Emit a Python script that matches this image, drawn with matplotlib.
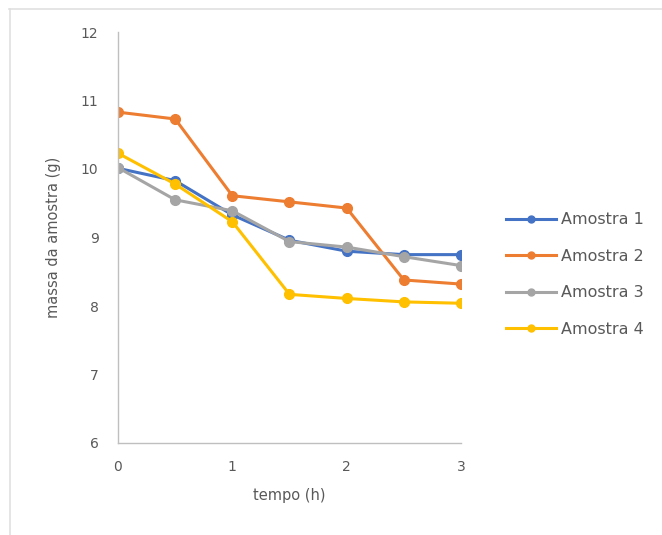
import matplotlib
matplotlib.use("Agg")
import matplotlib.pyplot as plt
from matplotlib.lines import Line2D

tempo = [0, 0.5, 1, 1.5, 2, 2.5, 3]
amostra1 = [10.01, 9.83, 9.33, 8.96, 8.80, 8.75, 8.75]
amostra2 = [10.83, 10.73, 9.61, 9.52, 9.43, 8.38, 8.32]
amostra3 = [10.02, 9.55, 9.39, 8.94, 8.86, 8.72, 8.59]
amostra4 = [10.23, 9.78, 9.23, 8.17, 8.11, 8.06, 8.04]
nomes = ["Amostra 1", "Amostra 2", "Amostra 3", "Amostra 4"]
cores = ["#4472C4", "#ED7D31", "#A5A5A5", "#FFC000"]

TXT = "#595959"
EIXO = "#BFBFBF"

fig = plt.figure(figsize=(6.62, 5.35), dpi=100)
ax = fig.add_axes([118 / 662, 1 - 443 / 535, (461 - 118) / 662, (443 - 32) / 535])

for serie, nome, cor in zip([amostra1, amostra2, amostra3, amostra4], nomes, cores):
    ax.plot(tempo, serie, color=cor, lw=2.2, marker="o", ms=7, label=nome)

ax.set_xlim(0, 3)
ax.set_ylim(6, 12)
ax.set_xticks([0, 1, 2, 3])
ax.set_yticks([6, 7, 8, 9, 10, 11, 12])
ax.tick_params(length=0, labelsize=10, colors=TXT, pad=12)
ax.tick_params(axis="y", pad=14)
for s in ["top", "right"]:
    ax.spines[s].set_visible(False)
for s in ["left", "bottom"]:
    ax.spines[s].set_color(EIXO)
    ax.spines[s].set_linewidth(1)
ax.set_xlabel("tempo (h)", fontsize=10.5, color=TXT, labelpad=10)
ax.set_ylabel("massa da amostra (g)", fontsize=10.5, color=TXT, labelpad=14)

leg = ax.legend(loc="center left", bbox_to_anchor=(1.09, 0.41), frameon=False,
                fontsize=11.5, labelcolor=TXT, handlelength=3.1, labelspacing=1.35,
                handletextpad=0.3)
for h in leg.legend_handles:
    h.set_markersize(5)

# moldura do gráfico (só topo e esquerda aparecem)
fig.add_artist(Line2D([9 / 662, 1], [1 - 9 / 535] * 2, color="#E0E0E0", lw=1.2))
fig.add_artist(Line2D([10 / 662] * 2, [0, 1 - 9 / 535], color="#E0E0E0", lw=1.2))

fig.savefig("out.png", dpi=100)
